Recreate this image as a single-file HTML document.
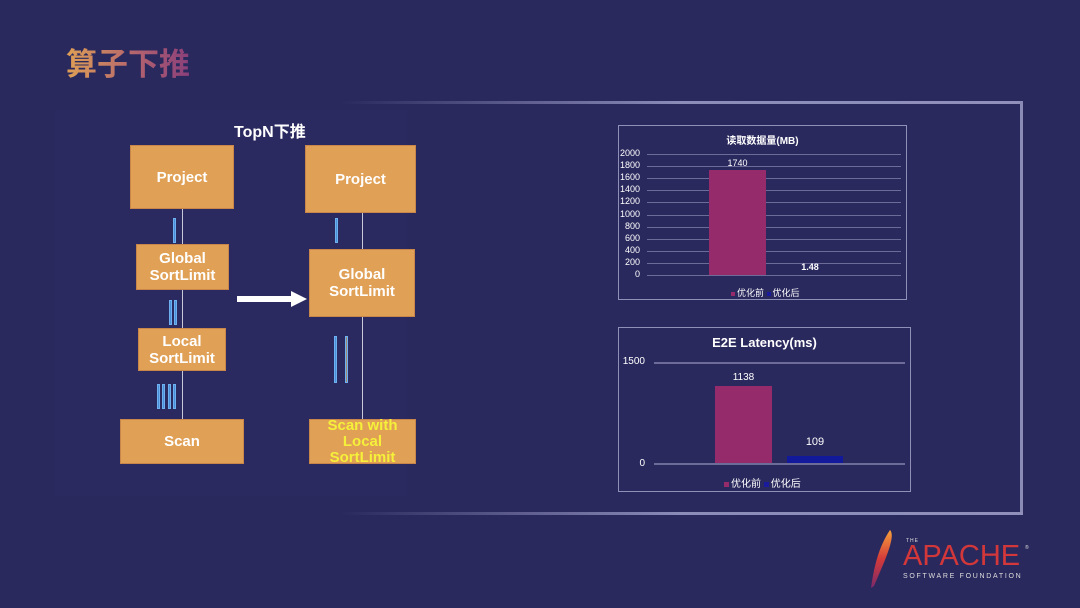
<!DOCTYPE html>
<html><head><meta charset="utf-8"><style>
*{margin:0;padding:0;box-sizing:border-box}
body{width:1080px;height:608px;background:#2a295e;position:relative;overflow:hidden;font-family:"Liberation Sans","Noto Sans CJK SC",sans-serif;color:#fff}
.a{position:absolute}
.box{position:absolute;background:#e0a055;border:1px solid #c8864a;color:#fff;font-weight:bold;font-size:15px;display:flex;align-items:center;justify-content:center;text-align:center;line-height:17px}
.bl{position:absolute;width:3px;background:#4a90d9;border:1px solid #6fb0f0}
.vl{position:absolute;width:1px;background:#c8c8d8}
.t{position:absolute;font-size:9px;color:#fff;text-align:right;width:30px}
.g{position:absolute;height:1px;background:#6d6c98}
</style></head><body>
<div class="a" style="left:66px;top:39px;font-size:31px;font-weight:bold;background:linear-gradient(90deg,#e0a055,#b06070 60%,#8a3f7a);-webkit-background-clip:text;background-clip:text;color:transparent;font-family:'Noto Sans CJK SC',sans-serif">算子下推</div>
<!-- frame -->
<div class="a" style="left:340px;top:101px;width:683px;height:3px;background:linear-gradient(90deg,rgba(140,140,185,0),#8c8cb9 50%,#9090bb)"></div>
<div class="a" style="left:1020px;top:101px;width:3px;height:414px;background:#8a8ab5"></div>
<div class="a" style="left:340px;top:512px;width:683px;height:3px;background:linear-gradient(90deg,rgba(140,140,185,0),#8c8cb9 50%,#9090bb)"></div>
<div class="a" style="left:55px;top:110px;width:352px;height:386px;background:#2b2a60"></div>
<div class="a" style="left:234px;top:118px;font-size:16px;font-weight:bold;font-family:'Liberation Sans','Noto Sans CJK SC',sans-serif">TopN下推</div>
<!-- left column -->
<div class="vl" style="left:182px;top:209px;height:35px"></div>
<div class="vl" style="left:182px;top:290px;height:38px"></div>
<div class="vl" style="left:182px;top:371px;height:48px"></div>
<div class="box" style="left:130px;top:145px;width:104px;height:64px">Project</div>
<div class="box" style="left:136px;top:244px;width:93px;height:46px">Global<br>SortLimit</div>
<div class="box" style="left:138px;top:328px;width:88px;height:43px">Local<br>SortLimit</div>
<div class="box" style="left:120px;top:419px;width:124px;height:45px">Scan</div>
<div class="bl" style="left:173px;top:218px;height:25px"></div>
<div class="bl" style="left:169px;top:300px;height:25px"></div>
<div class="bl" style="left:174px;top:300px;height:25px"></div>
<div class="bl" style="left:157px;top:384px;height:25px"></div>
<div class="bl" style="left:162px;top:384px;height:25px"></div>
<div class="bl" style="left:168px;top:384px;height:25px"></div>
<div class="bl" style="left:173px;top:384px;height:25px"></div>
<!-- arrow -->
<div class="a" style="left:237px;top:296px;width:55px;height:6px;background:#fff"></div>
<div class="a" style="left:291px;top:291px;width:0;height:0;border-top:8px solid transparent;border-bottom:8px solid transparent;border-left:16px solid #fff"></div>
<!-- right column -->
<div class="vl" style="left:362px;top:213px;height:36px"></div>
<div class="vl" style="left:362px;top:317px;height:102px"></div>
<div class="box" style="left:305px;top:145px;width:111px;height:68px">Project</div>
<div class="box" style="left:309px;top:249px;width:106px;height:68px">Global<br>SortLimit</div>
<div class="box" style="left:309px;top:419px;width:107px;height:45px;color:#f5f03a;line-height:16px">Scan with<br>Local<br>SortLimit</div>
<div class="bl" style="left:335px;top:218px;height:25px"></div>
<div class="bl" style="left:334px;top:336px;height:47px"></div>
<div class="bl" style="left:345px;top:336px;height:47px;background:#a08a70"></div>
<!-- chart 1 -->
<div class="a" style="left:618px;top:125px;width:289px;height:175px;border:1px solid #8f8fb8"></div>
<div class="a" style="left:618px;top:132px;width:289px;text-align:center;font-size:10px;font-weight:bold">读取数据量(MB)</div>
<div class="g" style="left:647px;top:154px;width:254px"></div>
<div class="g" style="left:647px;top:166px;width:254px"></div>
<div class="g" style="left:647px;top:178px;width:254px"></div>
<div class="g" style="left:647px;top:190px;width:254px"></div>
<div class="g" style="left:647px;top:202px;width:254px"></div>
<div class="g" style="left:647px;top:215px;width:254px"></div>
<div class="g" style="left:647px;top:227px;width:254px"></div>
<div class="g" style="left:647px;top:239px;width:254px"></div>
<div class="g" style="left:647px;top:251px;width:254px"></div>
<div class="g" style="left:647px;top:263px;width:254px"></div>
<div class="g" style="left:647px;top:275px;width:254px"></div>
<div class="t" style="left:610px;top:148px">2000</div>
<div class="t" style="left:610px;top:160px">1800</div>
<div class="t" style="left:610px;top:172px">1600</div>
<div class="t" style="left:610px;top:184px">1400</div>
<div class="t" style="left:610px;top:196px">1200</div>
<div class="t" style="left:610px;top:209px">1000</div>
<div class="t" style="left:610px;top:221px">800</div>
<div class="t" style="left:610px;top:233px">600</div>
<div class="t" style="left:610px;top:245px">400</div>
<div class="t" style="left:610px;top:257px">200</div>
<div class="t" style="left:610px;top:269px">0</div>
<div class="a" style="left:709px;top:170px;width:57px;height:105px;background:#952b6b"></div>
<div class="a" style="left:709px;top:158px;width:57px;text-align:center;font-size:9px">1740</div>
<div class="a" style="left:795px;top:262px;width:30px;text-align:center;font-size:9px;font-weight:bold">1.48</div>
<div class="a" style="left:731px;top:286px;font-size:9px"><span style="display:inline-block;width:4px;height:4px;background:#952b6b;margin-right:2px"></span>优化前 <span style="display:inline-block;width:4px;height:4px;background:#1a1a9c;margin-right:2px"></span>优化后</div>
<!-- chart 2 -->
<div class="a" style="left:618px;top:327px;width:293px;height:165px;border:1px solid #8f8fb8"></div>
<div class="a" style="left:618px;top:335px;width:293px;text-align:center;font-size:13px;font-weight:bold">E2E Latency(ms)</div>
<div class="g" style="left:654px;top:362px;width:251px;height:2px"></div>
<div class="g" style="left:654px;top:463px;width:251px;height:2px"></div>
<div class="t" style="left:615px;top:356px;font-size:10px">1500</div>
<div class="t" style="left:615px;top:458px;font-size:10px">0</div>
<div class="a" style="left:715px;top:386px;width:57px;height:77px;background:#952b6b"></div>
<div class="a" style="left:715px;top:372px;width:57px;text-align:center;font-size:10px">1138</div>
<div class="a" style="left:787px;top:456px;width:56px;height:7px;background:#12199a"></div>
<div class="a" style="left:787px;top:436px;width:56px;text-align:center;font-size:11px">109</div>
<div class="a" style="left:724px;top:475px;font-size:10px"><span style="display:inline-block;width:5px;height:5px;background:#952b6b;margin-right:2px"></span>优化前 <span style="display:inline-block;width:5px;height:5px;background:#1a1a9c;margin-right:2px"></span>优化后</div>
<!-- apache logo -->
<svg class="a" style="left:866px;top:528px" width="30" height="62"><path d="M24 2 C30 8 20 30 8 58 L5 60 C8 40 12 20 24 2Z" fill="url(#fg)"/><defs><linearGradient id="fg" x1="0" y1="0" x2="0" y2="1"><stop offset="0" stop-color="#f6a03a"/><stop offset=".5" stop-color="#d33a3a"/><stop offset="1" stop-color="#7a2a6a"/></linearGradient></defs></svg>
<div class="a" style="left:906px;top:538px;font-size:5px;letter-spacing:1px;color:#ddd">THE</div>
<div class="a" style="left:903px;top:542px;font-size:29px;color:#d2373a;letter-spacing:0px;line-height:28px">APACHE</div>
<div class="a" style="left:1025px;top:545px;font-size:5px;color:#ddd">®</div>
<div class="a" style="left:903px;top:573px;font-size:7px;letter-spacing:1.7px;color:#ddd">SOFTWARE FOUNDATION</div>
</body></html>
